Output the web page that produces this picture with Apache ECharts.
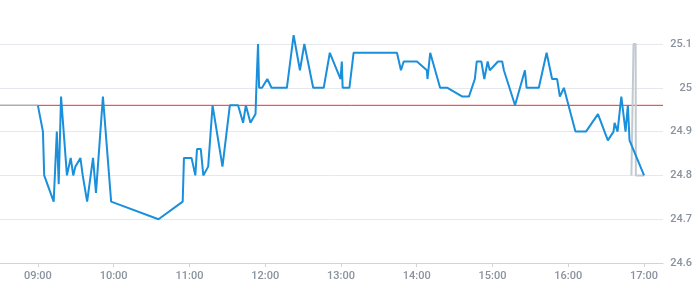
<!DOCTYPE html>
<html>
<head>
<meta charset="utf-8">
<script src="https://cdn.jsdelivr.net/npm/echarts@6/dist/echarts.min.js"></script>
<style>html,body{margin:0;padding:0;background:#fff}#c{width:695px;height:300px}</style>
</head>
<body>
<div id="c"></div>
<script>
// Price series (time, value)
var priceTimes = ["09:00:00","09:04:00","09:05:00","09:12:30","09:15:00","09:16:30","09:18:20","09:23:00","09:26:00","09:28:00","09:29:40","09:33:40","09:35:30","09:37:00","09:39:00","09:43:40","09:46:00","09:51:30","09:58:00","10:35:30","10:54:40","10:55:40","11:01:40","11:04:40","11:06:00","11:09:00","11:11:00","11:14:50","11:18:20","11:26:10","11:32:00","11:38:30","11:42:30","11:44:40","11:48:20","11:52:20","11:53:00","11:54:20","11:55:10","11:57:30","12:01:40","12:05:00","12:17:10","12:22:30","12:27:30","12:29:00","12:31:00","12:38:00","12:46:20","12:51:10","12:59:40","13:00:40","13:01:20","13:06:40","13:10:00","13:44:20","13:47:30","13:49:00","13:49:40","14:00:10","14:08:00","14:08:30","14:10:40","14:18:30","14:24:20","14:36:10","14:41:20","14:46:00","14:47:30","14:51:10","14:53:30","14:56:10","14:57:50","15:04:20","15:07:40","15:09:00","15:17:50","15:25:40","15:27:00","15:36:40","15:42:50","15:47:10","15:51:10","15:53:20","15:56:30","16:05:40","16:14:00","16:23:30","16:31:20","16:35:50","16:36:40","16:39:00","16:42:00","16:43:30","16:45:20","16:47:10","16:48:30","17:00:00"];
var priceValues = [24.96,24.90,24.80,24.74,24.90,24.78,24.98,24.80,24.84,24.80,24.82,24.84,24.80,24.80,24.74,24.84,24.76,24.98,24.74,24.70,24.74,24.84,24.84,24.80,24.86,24.86,24.80,24.82,24.96,24.82,24.96,24.96,24.92,24.96,24.92,24.94,25.00,25.10,25.00,25.00,25.02,25.00,25.00,25.12,25.04,25.04,25.10,25.00,25.00,25.08,25.02,25.06,25.00,25.00,25.08,25.08,25.04,25.04,25.06,25.06,25.04,25.02,25.08,25.00,25.00,24.98,24.98,25.02,25.06,25.06,25.02,25.06,25.04,25.06,25.06,25.04,24.96,25.04,25.00,25.00,25.08,25.02,25.02,24.98,25.00,24.90,24.90,24.94,24.88,24.90,24.92,24.90,24.98,24.98,24.90,24.96,24.88,24.80];

// Closing auction series (grey)
var auctionTimes = ["16:50:00","16:51:40","16:53:20","16:53:30","17:00:00"];
var auctionValues = [24.80,25.10,25.10,24.80,24.80];

// Previous close reference
var prevClose = 24.96;
var preOpenTimes = ["08:30:00","09:00:00"];
var refTimes = ["09:00:00","17:15:00"];

var axisMinTime = "08:30:00";
var axisMaxTime = "17:15:00";
var yTicks = [24.6, 24.7, 24.8, 24.9, 25.0, 25.1];

function ts(s) {
  var p = s.split(":").map(Number);
  return new Date(2024, 0, 2, p[0], p[1], p[2] || 0).getTime();
}
function pairs(times, vals) {
  return times.map(function (t, i) { return [ts(t), vals[i]]; });
}
function flat(times, v) {
  return times.map(function (t) { return [ts(t), v]; });
}

var chart = echarts.init(document.getElementById('c'), null, {renderer: 'canvas'});
var labelFont = {color: '#8a929e', fontFamily: 'Roboto', fontSize: 11, fontWeight: 500};
chart.setOption({
  animation: false,
  backgroundColor: '#ffffff',
  grid: {left: 0, right: 30, top: 44, bottom: 37, containLabel: false},
  xAxis: {
    type: 'time',
    min: ts(axisMinTime),
    max: ts(axisMaxTime),
    minInterval: 3600 * 1000,
    maxInterval: 3600 * 1000,
    axisLine: {show: true, lineStyle: {color: '#cfd5dd', width: 1}},
    axisTick: {show: true, length: 4, lineStyle: {color: '#cfd5dd'}},
    splitLine: {show: false},
    axisLabel: Object.assign({margin: 8, formatter: '{HH}:{mm}', showMinLabel: false, showMaxLabel: false}, labelFont)
  },
  yAxis: {
    type: 'value',
    position: 'right',
    min: yTicks[0],
    max: yTicks[yTicks.length - 1],
    interval: 0.1,
    axisLine: {show: false},
    axisTick: {show: false},
    splitLine: {show: true, lineStyle: {color: '#e5e8ec', width: 1}},
    axisLabel: Object.assign({margin: 29, align: 'right', formatter: function (v) { return String(Math.round(v * 10) / 10); }}, labelFont)
  },
  series: [
    {
      type: 'line', data: flat(preOpenTimes, prevClose), symbol: 'none', silent: true,
      lineStyle: {color: '#a9aeb5', width: 1.5}, z: 1
    },
    {
      type: 'line', data: flat(refTimes, prevClose), symbol: 'none', silent: true,
      lineStyle: {color: '#e0352b', width: 1}, z: 1
    },
    {
      type: 'line', data: pairs(auctionTimes, auctionValues), symbol: 'none', clip: false,
      lineStyle: {color: '#c2c9d1', width: 2}, z: 2
    },
    {
      type: 'line', data: pairs(priceTimes, priceValues), symbol: 'none', clip: false,
      lineStyle: {color: '#1a8fdb', width: 2}, z: 3
    }
  ]
});
</script>
</body>
</html>
